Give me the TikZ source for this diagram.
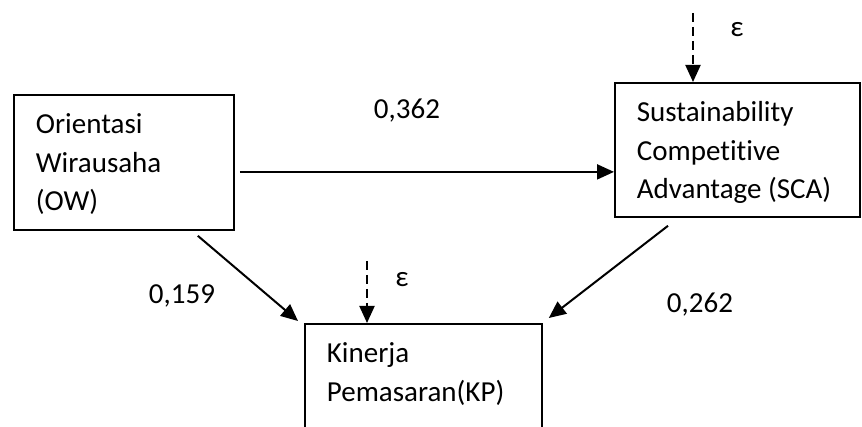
\documentclass[tikz,border=0pt]{standalone}
\usepackage{fontspec}
\setmainfont{Carlito}[Ligatures={NoCommon}]
\usepackage{tikz}
\usetikzlibrary{arrows.meta, calc}

\newcommand{\boxtext}[3]{\parbox[c][#2][t]{#1}{\raggedright\leftskip=11pt\rule{0pt}{19.5pt}#3}}

\begin{document}
\begin{tikzpicture}[x=0.5pt, y=-0.5pt,
    every node/.style={font=\fontsize{14.5}{19.25}\selectfont},
    box/.style={draw, line width=0.9pt, anchor=north west, inner sep=0pt},
    arr/.style={line width=1pt, -{Triangle[length=8.5pt, width=7.5pt]}},
    dasharr/.style={arr, dash pattern=on 4.5pt off 2.5pt}]
                        \useasboundingbox (0,0) rectangle (862,427);
                        %\draw[help lines] (0,0) grid[step=50] (862,427);
                        \node[box] (ow) at (13,94) {\boxtext{110pt}{67.5pt}{Orientasi\\Wirausaha\\(OW)}};
                        \node[box] (sca) at (614,82) {\boxtext{122.5pt}{67pt}{Sustainability\\Competitive\\Advantage (SCA)}};
                        \node[box] (kp) at (304,323) {\boxtext{118.5pt}{65pt}{Kinerja\\Pemasaran(KP)}};
                        \coordinate (e1) at (693,13);
                        \coordinate (e2) at (367,261);
                        \draw[dasharr] (e1) -- (e1 |- sca.north);
                        \draw[dasharr] (e2) -- (e2 |- kp.north);
                        \draw[arr] ([xshift=2.5pt, yshift=-4.75pt]ow.east) -- ([yshift=-4.75pt]ow.east -| sca.west);
                        \draw[arr] ([xshift=-18.5pt, yshift=-2.5pt]ow.south east) -- ([xshift=-3pt, yshift=1pt]kp.north west);
                        \draw[arr] ([xshift=27pt, yshift=-4pt]sca.south west) -- ([xshift=3pt, yshift=2.5pt]kp.north east);
                        \node (eps1) at (737,30) {ε};
                        \node (eps2) at (402,280) {ε};
                        \node (w1) at (407,111) {0,362};
                        \node (w2) at (182,296) {0,159};
                        \node (w3) at (700,305) {0,262};
                    \end{tikzpicture}
\end{document}
